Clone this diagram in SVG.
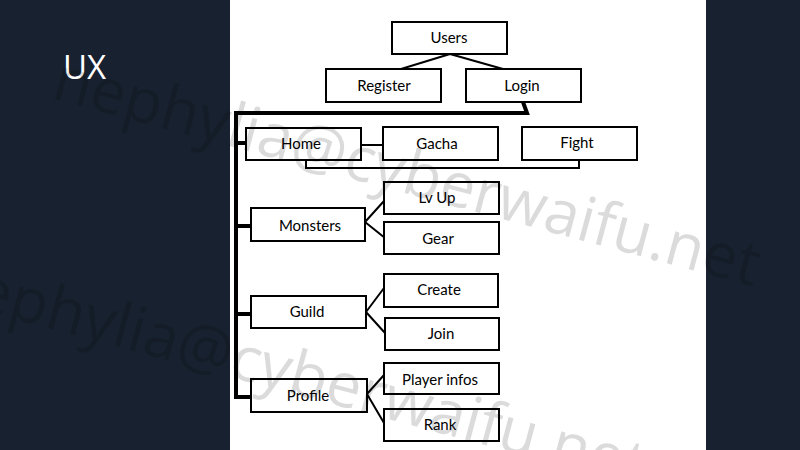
<svg xmlns="http://www.w3.org/2000/svg" width="800" height="450" viewBox="0 0 800 450">
  <style>
    .box rect { fill: #ffffff; stroke: #000000; stroke-width: 2; }
    .box text { font-family: Lato, "Open Sans", sans-serif; font-size: 15px; fill: #000000; text-anchor: middle; }
    .thin { fill: none; stroke: #000000; stroke-width: 2; }
    .thick { fill: none; stroke: #000000; stroke-width: 4; stroke-linejoin: miter; }
    .wm { font-family: "Open Sans", sans-serif; font-size: 62px; fill: #000000; fill-opacity: 0.14; }
  </style>
  <rect x="0" y="0" width="800" height="450" fill="#18212f"/>
  <rect x="230" y="0" width="476" height="450" fill="#ffffff"/>
  <text x="63" y="79" font-family="'Open Sans', sans-serif" font-size="33" fill="#ffffff">UX</text>

  <g id="connectors">
    <path class="thin" d="M450,54 L401,69 M450,54 L503,69"/>
    <path class="thick" d="M523,102 L527,113 L236,113 L236,397 L251,397"/>
    <path class="thick" d="M236,143 H246 M236,226 H251 M236,314 H251"/>
    <path class="thin" d="M361,145 H383"/>
    <path class="thin" d="M306,160 V168 H579 V160"/>
    <path class="thin" d="M365,222 L384,201 M365,222 L385,238"/>
    <path class="thin" d="M366,312 L384,288 M366,312 L385,333"/>
    <path class="thin" d="M367,394 L384,375 M367,394 L384,423"/>
  </g>

  <g id="users" class="box"><rect x="392" y="22" width="115" height="32"/><text x="449" y="43">Users</text></g>
  <g id="register" class="box"><rect x="326" y="69" width="115" height="33"/><text x="384" y="91">Register</text></g>
  <g id="login" class="box"><rect x="466" y="69" width="115" height="33"/><text x="522" y="91">Login</text></g>
  <g id="home" class="box"><rect x="246" y="128" width="115" height="32"/><text x="301" y="149">Home</text></g>
  <g id="gacha" class="box"><rect x="383" y="127" width="115" height="33"/><text x="437" y="149">Gacha</text></g>
  <g id="fight" class="box"><rect x="522" y="127" width="115" height="33"/><text x="577" y="148">Fight</text></g>
  <g id="monsters" class="box"><rect x="251" y="208" width="114" height="33"/><text x="310" y="231">Monsters</text></g>
  <g id="lvup" class="box"><rect x="384" y="182" width="115" height="32"/><text x="437" y="203">Lv Up</text></g>
  <g id="gear" class="box"><rect x="384" y="222" width="115" height="32"/><text x="438" y="244">Gear</text></g>
  <g id="guild" class="box"><rect x="251" y="296" width="115" height="32"/><text x="307" y="317">Guild</text></g>
  <g id="create" class="box"><rect x="384" y="274" width="114" height="33"/><text x="439" y="295">Create</text></g>
  <g id="join" class="box"><rect x="385" y="318" width="114" height="32"/><text x="441" y="339">Join</text></g>
  <g id="profile" class="box"><rect x="251" y="379" width="116" height="33"/><text x="308" y="401">Profile</text></g>
  <g id="playerinfos" class="box"><rect x="384" y="363" width="115" height="31"/><text x="440" y="385">Player infos</text></g>
  <g id="rank" class="box"><rect x="384" y="409" width="115" height="32"/><text x="440" y="430">Rank</text></g>

  <g id="watermark">
    <text class="wm" transform="translate(50,98) rotate(15)">nephylia@cyberwaifu.net</text>
    <text class="wm" transform="translate(-64,298) rotate(15)">nephylia@cyberwaifu.net</text>
  </g>
</svg>
